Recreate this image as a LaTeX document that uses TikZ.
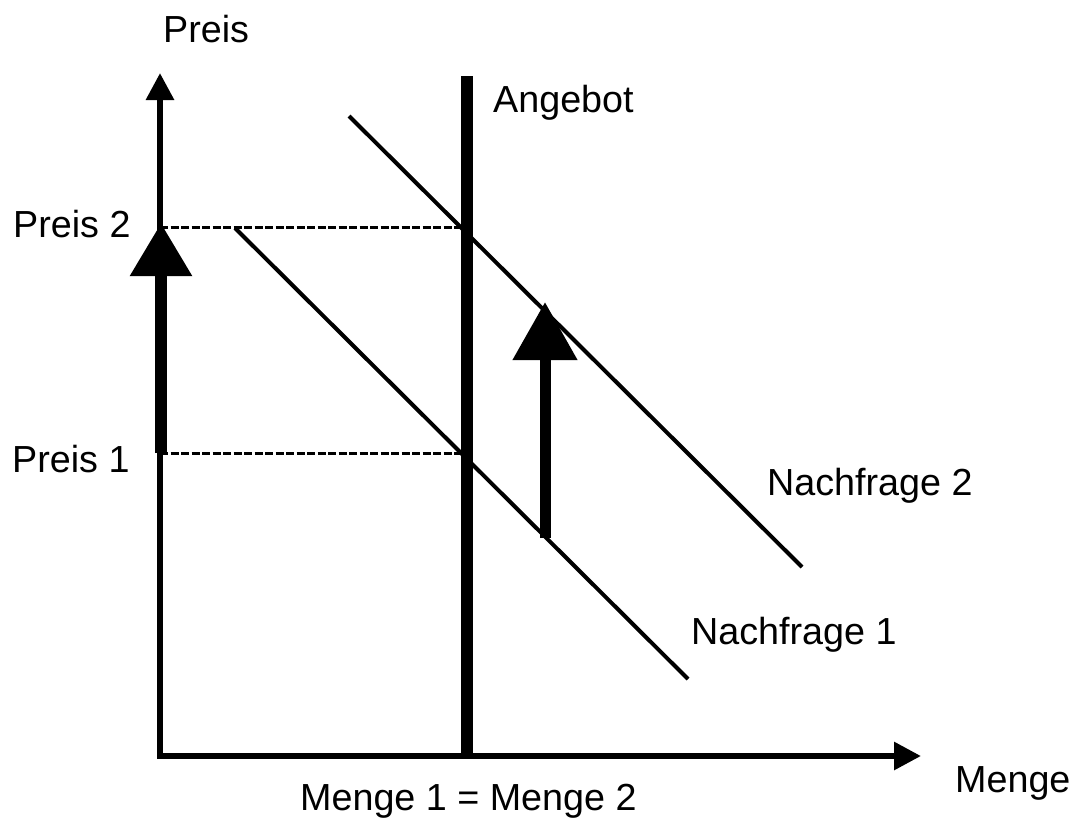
\documentclass[tikz,border=0pt]{standalone}
\usepackage{fontspec}
\setmainfont{Liberation Sans}
\usetikzlibrary{arrows.meta}
\begin{document}
\begin{tikzpicture}[x=1pt,y=-1pt,
  lbl/.style={anchor=base west,inner sep=0pt,font=\fontsize{37.7}{45}\selectfont},
  axisline/.style={line width=6pt,line cap=rect,-{Triangle[length=27pt,width=27pt]}},
  supply/.style={line width=12pt},
  demand/.style={line width=4pt},
  guide/.style={line width=3pt,dash pattern=on 8pt off 2.5pt},
  shift1/.style={line width=12pt,-{Triangle[length=53pt,width=59pt]}},
  shift2/.style={line width=11pt,-{Triangle[length=58pt,width=62pt]}}]
\useasboundingbox (0,0) rectangle (1072,820);
% coordinates
\coordinate (O) at (160,756);
\coordinate (Xend) at (921,756);
\coordinate (Yend) at (160,73);
\coordinate (Stop) at (467,76);
\coordinate (Sbot) at (467,759);
\coordinate (Nza) at (349,116);
\coordinate (Nzb) at (802,567);
\coordinate (Nea) at (235,228);
\coordinate (Neb) at (688,679);
\coordinate (P2a) at (160,227);
\coordinate (P2b) at (467,227);
\coordinate (P1a) at (160,453);
\coordinate (P1b) at (467,453);
\coordinate (A1s) at (161,453);
\coordinate (A1e) at (161,223);
\coordinate (A2s) at (545,538);
\coordinate (A2e) at (545,302);
% guides
\draw[guide] (P2a) -- (P2b);
\draw[guide] (P1a) -- (P1b);
% demand curves
\draw[demand] (Nza) -- (Nzb);
\draw[demand] (Nea) -- (Neb);
% axes
\draw[axisline] (O) -- (Xend);
\draw[axisline] (O) -- (Yend);
% supply
\draw[supply] (Stop) -- (Sbot);
% shift arrows
\draw[shift1] (A1s) -- (A1e);
\draw[shift2] (A2s) -- (A2e);
% labels
\node[lbl] (preis) at (163,42) {Preis};
\node[lbl] (preis2) at (13,237) {Preis 2};
\node[lbl] (preis1) at (12,472) {Preis 1};
\node[lbl] (angebot) at (493,112) {Angebot};
\node[lbl] (nf2) at (767,495) {Nachfrage 2};
\node[lbl] (nf1) at (691,644) {Nachfrage 1};
\node[lbl] (menge) at (955,792) {Menge};
\node[lbl] (menge12) at (300,810) {Menge 1 = Menge 2};
\end{tikzpicture}
\end{document}
